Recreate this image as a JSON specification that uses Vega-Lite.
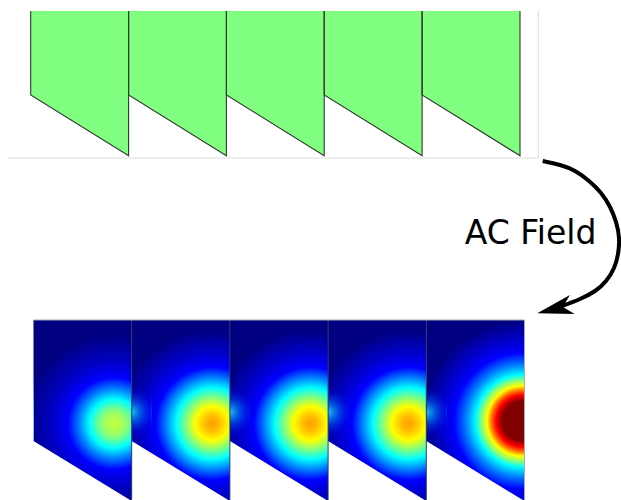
{
  "$schema": "https://vega.github.io/schema/vega-lite/v6.json",
  "width": 621,
  "height": 500,
  "padding": 0,
  "autosize": {"type": "none"},
  "config": {"view": {"stroke": null}},
  "datasets": {
    "top": [
      {"p": 1, "x": 30.7, "yt": 11, "yb": 95}, {"p": 1, "x": 128.6, "yt": 11, "yb": 155.7},
      {"p": 2, "x": 128.6, "yt": 11, "yb": 95}, {"p": 2, "x": 226.4, "yt": 11, "yb": 155.7},
      {"p": 3, "x": 226.4, "yt": 11, "yb": 95}, {"p": 3, "x": 324.2, "yt": 11, "yb": 155.7},
      {"p": 4, "x": 324.2, "yt": 11, "yb": 95}, {"p": 4, "x": 422.1, "yt": 11, "yb": 155.7},
      {"p": 5, "x": 422.1, "yt": 11, "yb": 95}, {"p": 5, "x": 520, "yt": 11, "yb": 155.7}
    ],
    "outline": [
      {"p": 1, "o": 1, "x": 30.7, "y": 11}, {"p": 1, "o": 2, "x": 30.7, "y": 95}, {"p": 1, "o": 3, "x": 128.6, "y": 155.7}, {"p": 1, "o": 4, "x": 128.6, "y": 11},
      {"p": 2, "o": 1, "x": 128.6, "y": 11}, {"p": 2, "o": 2, "x": 128.6, "y": 95}, {"p": 2, "o": 3, "x": 226.4, "y": 155.7}, {"p": 2, "o": 4, "x": 226.4, "y": 11},
      {"p": 3, "o": 1, "x": 226.4, "y": 11}, {"p": 3, "o": 2, "x": 226.4, "y": 95}, {"p": 3, "o": 3, "x": 324.2, "y": 155.7}, {"p": 3, "o": 4, "x": 324.2, "y": 11},
      {"p": 4, "o": 1, "x": 324.2, "y": 11}, {"p": 4, "o": 2, "x": 324.2, "y": 95}, {"p": 4, "o": 3, "x": 422.1, "y": 155.7}, {"p": 4, "o": 4, "x": 422.1, "y": 11},
      {"p": 5, "o": 1, "x": 422.1, "y": 11}, {"p": 5, "o": 2, "x": 422.1, "y": 95}, {"p": 5, "o": 3, "x": 520, "y": 155.7}, {"p": 5, "o": 4, "x": 520, "y": 11}
    ],
    "heat": [
      {"p": 1, "x": 33.5, "yt": 320, "yb": 441}, {"p": 1, "x": 131.7, "yt": 320, "yb": 501},
      {"p": 2, "x": 131.7, "yt": 320, "yb": 441}, {"p": 2, "x": 229.9, "yt": 320, "yb": 501},
      {"p": 3, "x": 229.9, "yt": 320, "yb": 441}, {"p": 3, "x": 328.1, "yt": 320, "yb": 501},
      {"p": 4, "x": 328.1, "yt": 320, "yb": 441}, {"p": 4, "x": 426.3, "yt": 320, "yb": 501},
      {"p": 5, "x": 426.3, "yt": 320, "yb": 441}, {"p": 5, "x": 524.5, "yt": 320, "yb": 501}
    ],
    "glow": [
      {"p": 2, "x": 131.7, "yt": 370, "yb": 441}, {"p": 2, "x": 151.7, "yt": 370, "yb": 453.2},
      {"p": 3, "x": 229.9, "yt": 370, "yb": 441}, {"p": 3, "x": 249.9, "yt": 370, "yb": 453.2},
      {"p": 4, "x": 328.1, "yt": 370, "yb": 441}, {"p": 4, "x": 348.1, "yt": 370, "yb": 453.2},
      {"p": 5, "x": 426.3, "yt": 370, "yb": 441}, {"p": 5, "x": 446.3, "yt": 370, "yb": 453.2}
    ],
    "seps": [
      {"x": 131.7, "y": 320, "y2": 501}, {"x": 229.9, "y": 320, "y2": 501},
      {"x": 328.1, "y": 320, "y2": 501}, {"x": 426.3, "y": 320, "y2": 501}
    ],
    "frameBottom": [
      {"x": 33.5, "y": 320, "x2": 524.5, "y2": 320},
      {"x": 524.5, "y": 320, "x2": 524.5, "y2": 501}
    ],
    "frameTop": [
      {"x": 8, "y": 158, "x2": 538.3, "y2": 158},
      {"x": 538.3, "y": 11, "x2": 538.3, "y2": 158}
    ],
    "arrow": [
      {"o": 1, "x": 542.7, "y": 161}, {"o": 2, "x": 560, "y": 165}, {"o": 3, "x": 575, "y": 171},
      {"o": 4, "x": 589, "y": 181}, {"o": 5, "x": 601, "y": 193}, {"o": 6, "x": 610, "y": 207},
      {"o": 7, "x": 616, "y": 222}, {"o": 8, "x": 619, "y": 238}, {"o": 9, "x": 618, "y": 254},
      {"o": 10, "x": 614, "y": 268}, {"o": 11, "x": 606, "y": 281}, {"o": 12, "x": 595, "y": 291},
      {"o": 13, "x": 580, "y": 299}, {"o": 14, "x": 561, "y": 306.5}
    ],
    "head": [{"x": 537.3, "y": 313.3}],
    "label": [{"x": 530.5, "y": 244, "t": "AC Field"}]
  },
  "layer": [
    {
      "data": {"name": "top"},
      "mark": {"type": "area", "fill": "#80ff80", "opacity": 1},
      "encoding": {
        "x": {"field": "x", "type": "quantitative", "scale": {"domain": [0, 621], "nice": false, "zero": false}, "axis": null},
        "y": {"field": "yt", "type": "quantitative", "scale": {"domain": [0, 500], "nice": false, "zero": false, "reverse": true}, "axis": null},
        "y2": {"field": "yb"},
        "detail": {"field": "p"}
      }
    },
    {
      "data": {"name": "outline"},
      "mark": {"type": "line", "stroke": "#2f3a2f", "strokeWidth": 1.1},
      "encoding": {
        "x": {"field": "x", "type": "quantitative", "scale": {"domain": [0, 621], "nice": false, "zero": false}, "axis": null},
        "y": {"field": "y", "type": "quantitative", "scale": {"domain": [0, 500], "nice": false, "zero": false, "reverse": true}, "axis": null},
        "detail": {"field": "p"},
        "order": {"field": "o"}
      }
    },
    {
      "data": {"name": "frameTop"},
      "mark": {"type": "rule", "stroke": "#dddddd", "strokeWidth": 1},
      "encoding": {
        "x": {"field": "x", "type": "quantitative", "scale": {"domain": [0, 621], "nice": false, "zero": false}, "axis": null},
        "y": {"field": "y", "type": "quantitative", "scale": {"domain": [0, 500], "nice": false, "zero": false, "reverse": true}, "axis": null},
        "x2": {"field": "x2"},
        "y2": {"field": "y2"}
      }
    },
    {
      "data": {"name": "heat"},
      "transform": [{"filter": "datum.p == 1"}],
      "mark": {"type": "area", "opacity": 1, "clip": true, "fill": {"gradient": "radial", "x1": 0.6735, "y1": 0.572, "r1": 0, "x2": 0.6735, "y2": 0.572, "r2": 0.52,
        "stops": [
          {"offset": 0, "color": "#c8ff38"}, {"offset": 0.1, "color": "#a0ff60"}, {"offset": 0.15, "color": "#80ff80"},
          {"offset": 0.26, "color": "#00ffff"}, {"offset": 0.37, "color": "#0080ff"}, {"offset": 0.49, "color": "#0000ff"},
          {"offset": 0.68, "color": "#0000c0"}, {"offset": 0.95, "color": "#000080"}, {"offset": 1, "color": "#000080"}
        ]}},
      "encoding": {
        "x": {"field": "x", "type": "quantitative", "scale": {"domain": [0, 621], "nice": false, "zero": false}, "axis": null},
        "y": {"field": "yt", "type": "quantitative", "scale": {"domain": [0, 500], "nice": false, "zero": false, "reverse": true}, "axis": null},
        "y2": {"field": "yb"},
        "detail": {"field": "p"}
      }
    },
    {
      "data": {"name": "heat"},
      "transform": [{"filter": "datum.p >= 2 && datum.p <= 4"}],
      "mark": {"type": "area", "opacity": 1, "clip": true, "fill": {"gradient": "radial", "x1": 0.6735, "y1": 0.572, "r1": 0, "x2": 0.6735, "y2": 0.572, "r2": 0.52,
        "stops": [
          {"offset": 0, "color": "#ffa000"}, {"offset": 0.07, "color": "#ffb800"}, {"offset": 0.18, "color": "#ffff00"},
          {"offset": 0.28, "color": "#80ff80"}, {"offset": 0.38, "color": "#00ffff"}, {"offset": 0.49, "color": "#0080ff"},
          {"offset": 0.6, "color": "#0000ff"}, {"offset": 0.76, "color": "#0000c8"}, {"offset": 1, "color": "#000080"}
        ]}},
      "encoding": {
        "x": {"field": "x", "type": "quantitative", "scale": {"domain": [0, 621], "nice": false, "zero": false}, "axis": null},
        "y": {"field": "yt", "type": "quantitative", "scale": {"domain": [0, 500], "nice": false, "zero": false, "reverse": true}, "axis": null},
        "y2": {"field": "yb"},
        "detail": {"field": "p"}
      }
    },
    {
      "data": {"name": "heat"},
      "transform": [{"filter": "datum.p == 5"}],
      "mark": {"type": "area", "opacity": 1, "clip": true, "fill": {"gradient": "radial", "x1": 0.7575, "y1": 0.558, "r1": 0, "x2": 0.7575, "y2": 0.558, "r2": 0.5525,
        "stops": [
          {"offset": 0, "color": "#800000"}, {"offset": 0.19, "color": "#800000"}, {"offset": 0.2, "color": "#8a0000"},
          {"offset": 0.26, "color": "#ff0000"}, {"offset": 0.31, "color": "#ff8000"}, {"offset": 0.35, "color": "#ffff00"},
          {"offset": 0.41, "color": "#80ff80"}, {"offset": 0.46, "color": "#00ffff"}, {"offset": 0.56, "color": "#0080ff"},
          {"offset": 0.68, "color": "#0000ff"}, {"offset": 0.82, "color": "#0000c8"}, {"offset": 1, "color": "#000080"}
        ]}},
      "encoding": {
        "x": {"field": "x", "type": "quantitative", "scale": {"domain": [0, 621], "nice": false, "zero": false}, "axis": null},
        "y": {"field": "yt", "type": "quantitative", "scale": {"domain": [0, 500], "nice": false, "zero": false, "reverse": true}, "axis": null},
        "y2": {"field": "yb"},
        "detail": {"field": "p"}
      }
    },
    {
      "data": {"name": "glow"},
      "mark": {"type": "area", "opacity": 1, "clip": true, "fill": {"gradient": "radial", "x1": 0.3795, "y1": 0.506, "r1": 0, "x2": 0.3795, "y2": 0.506, "r2": 0.3,
        "stops": [
          {"offset": 0, "color": "rgba(40,230,255,0.85)"}, {"offset": 0.4, "color": "rgba(0,150,255,0.5)"}, {"offset": 1, "color": "rgba(0,0,255,0)"}
        ]}},
      "encoding": {
        "x": {"field": "x", "type": "quantitative", "scale": {"domain": [0, 621], "nice": false, "zero": false}, "axis": null},
        "y": {"field": "yt", "type": "quantitative", "scale": {"domain": [0, 500], "nice": false, "zero": false, "reverse": true}, "axis": null},
        "y2": {"field": "yb"},
        "detail": {"field": "p"}
      }
    },
    {
      "data": {"name": "seps"},
      "mark": {"type": "rule", "stroke": "#2a3560", "strokeWidth": 0.9},
      "encoding": {
        "x": {"field": "x", "type": "quantitative", "scale": {"domain": [0, 621], "nice": false, "zero": false}, "axis": null},
        "y": {"field": "y", "type": "quantitative", "scale": {"domain": [0, 500], "nice": false, "zero": false, "reverse": true}, "axis": null},
        "y2": {"field": "y2"}
      }
    },
    {
      "data": {"name": "frameBottom"},
      "mark": {"type": "rule", "stroke": "#a8a8b0", "strokeWidth": 1},
      "encoding": {
        "x": {"field": "x", "type": "quantitative", "scale": {"domain": [0, 621], "nice": false, "zero": false}, "axis": null},
        "y": {"field": "y", "type": "quantitative", "scale": {"domain": [0, 500], "nice": false, "zero": false, "reverse": true}, "axis": null},
        "x2": {"field": "x2"},
        "y2": {"field": "y2"}
      }
    },
    {
      "data": {"name": "arrow"},
      "mark": {"type": "line", "stroke": "#000000", "strokeWidth": 4, "interpolate": "natural", "strokeCap": "butt"},
      "encoding": {
        "x": {"field": "x", "type": "quantitative", "scale": {"domain": [0, 621], "nice": false, "zero": false}, "axis": null},
        "y": {"field": "y", "type": "quantitative", "scale": {"domain": [0, 500], "nice": false, "zero": false, "reverse": true}, "axis": null},
        "order": {"field": "o"}
      }
    },
    {
      "data": {"name": "head"},
      "mark": {"type": "point", "shape": "M0,0 L-2,-0.544 L-1.47,0 L-2,0.544 Z", "size": 1296, "angle": 166, "filled": true, "fill": "#000000", "opacity": 1, "strokeWidth": 0},
      "encoding": {
        "x": {"field": "x", "type": "quantitative", "scale": {"domain": [0, 621], "nice": false, "zero": false}, "axis": null},
        "y": {"field": "y", "type": "quantitative", "scale": {"domain": [0, 500], "nice": false, "zero": false, "reverse": true}, "axis": null}
      }
    },
    {
      "data": {"name": "label"},
      "mark": {"type": "text", "font": "DejaVu Sans", "fontSize": 33, "align": "center", "baseline": "alphabetic", "color": "#000000"},
      "encoding": {
        "x": {"field": "x", "type": "quantitative", "scale": {"domain": [0, 621], "nice": false, "zero": false}, "axis": null},
        "y": {"field": "y", "type": "quantitative", "scale": {"domain": [0, 500], "nice": false, "zero": false, "reverse": true}, "axis": null},
        "text": {"field": "t"}
      }
    }
  ]
}
